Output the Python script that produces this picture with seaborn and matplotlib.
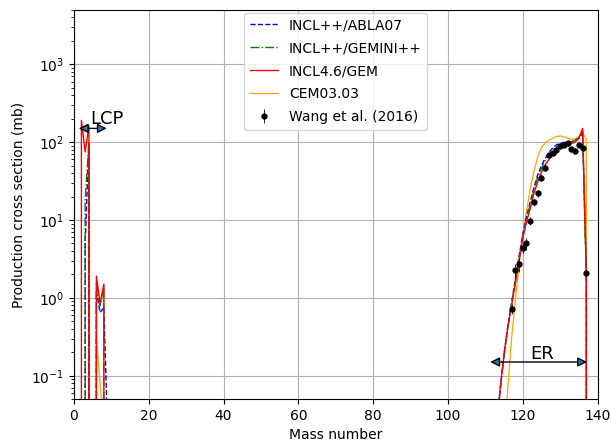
import matplotlib
matplotlib.use("Agg")
import matplotlib.pyplot as plt
import seaborn as sns
import pandas as pd
import numpy as np

# mass numbers for the light charged particles and the evaporation residues
mass_lcp = [1, 2, 3, 4, 5, 6, 7, 8, 9]
mass_er = list(range(110, 139))

# INCL++/ABLA07
abla_lcp = [0, 0, 5, 95, 0, 1.2, 0.65, 0.75, 0.02]
abla_er = [0.001, 0.002, 0.006, 0.022, 0.07, 0.19, 0.43, 0.85, 1.7, 3.4, 6.5, 11, 17, 26,
           38, 50, 62, 74, 84, 92, 97, 99, 100, 101, 104, 112, 130, 2, 0]

# INCL++/GEMINI++
gemini_lcp = [0, 0, 18, 100, 0, 1.5, 0.8, 1.4, 0]
gemini_er = [0.001, 0.002, 0.006, 0.022, 0.07, 0.18, 0.42, 0.82, 1.6, 3.2, 6.0, 10, 16, 24,
             35, 46, 58, 69, 79, 87, 93, 97, 99, 101, 105, 115, 138, 2, 0]

# INCL4.6/GEM
gem_lcp = [0, 190, 75, 160, 0, 1.9, 0.85, 1.5, 0]
gem_er = [0.001, 0.002, 0.006, 0.022, 0.07, 0.19, 0.42, 0.8, 1.5, 3.0, 5.8, 9.5, 14, 22,
          31, 41, 51, 60, 70, 79, 86, 91, 94, 96, 100, 112, 150, 2, 0]

# CEM03.03
cem_lcp = [0, 0, 0, 90, 0, 0.3, 0.08, 0.02, 0]
cem_er = [0, 0, 0, 0, 0.002, 0.015, 0.07, 0.3, 0.9, 2.6, 6.5, 13, 25, 42,
          65, 85, 98, 106, 112, 118, 120, 117, 112, 109, 110, 118, 130, 110, 0]

# Wang et al. (2016)
exp_mass = list(range(117, 138))
exp_xs = [0.72, 2.3, 2.7, 4.4, 5.0, 9.7, 17, 22, 35, 47, 68, 72, 79, 89, 92, 96,
          81, 77, 93, 83, 2.07]
exp_relerr = [0.15, 0.2, 0.2, 0.15, 0.18, 0.12, 0.1, 0.1, 0.1, 0.1, 0.08, 0.08,
              0.08, 0.08, 0.08, 0.08, 0.08, 0.08, 0.08, 0.08, 0.1]

models = [
    ("INCL++/ABLA07", abla_lcp, abla_er, "blue", "--", 1.0, 2.1),
    ("INCL++/GEMINI++", gemini_lcp, gemini_er, "green", "-.", 1.0, 2.2),
    ("INCL4.6/GEM", gem_lcp, gem_er, "red", "-", 1.0, 2.3),
    ("CEM03.03", cem_lcp, cem_er, "orange", "-", 0.9, 2.0),
]

fig, ax = plt.subplots(figsize=(6.11, 4.46), dpi=100)
fig.subplots_adjust(left=0.121, right=0.978, bottom=0.105, top=0.978)

for name, lcp, er, col, ls, lw, z in models:
    df = pd.DataFrame({"A": mass_lcp + mass_er, "xs": lcp + er})
    sns.lineplot(data=df, x="A", y="xs", ax=ax, color=col, linestyle=ls,
                 linewidth=lw, label=name, estimator=None, sort=False, zorder=z)

xs = np.array(exp_xs)
ax.errorbar(exp_mass, xs, yerr=xs * np.array(exp_relerr), fmt="o", color="k",
            markersize=3.5, ecolor="k", elinewidth=0.6, label="Wang et al. (2016)",
            zorder=5)

ax.set_yscale("log")
ax.set_xlim(0, 140)
ax.set_ylim(0.05, 5000)
ax.set_xlabel("Mass number")
ax.set_ylabel("Production cross section (mb)")
ax.grid(True, which="major", color="#b0b0b0", linewidth=0.8)
ax.set_axisbelow(True)

arrow_style = dict(arrowstyle="<|-|>", shrinkA=0, shrinkB=0, mutation_scale=14,
                   facecolor="#1f77b4", edgecolor="k", linewidth=1.0)
ax.annotate("", xy=(1.3, 150), xytext=(8.8, 150), arrowprops=arrow_style)
ax.text(4.3, 170, "LCP", fontsize=13)
ax.annotate("", xy=(111.3, 0.15), xytext=(137.2, 0.15), arrowprops=arrow_style)
ax.text(122, 0.165, "ER", fontsize=13)

ax.legend(loc="upper center", borderaxespad=0.2, labelspacing=0.65)

plt.savefig("out.png", dpi=100)
plt.close()
